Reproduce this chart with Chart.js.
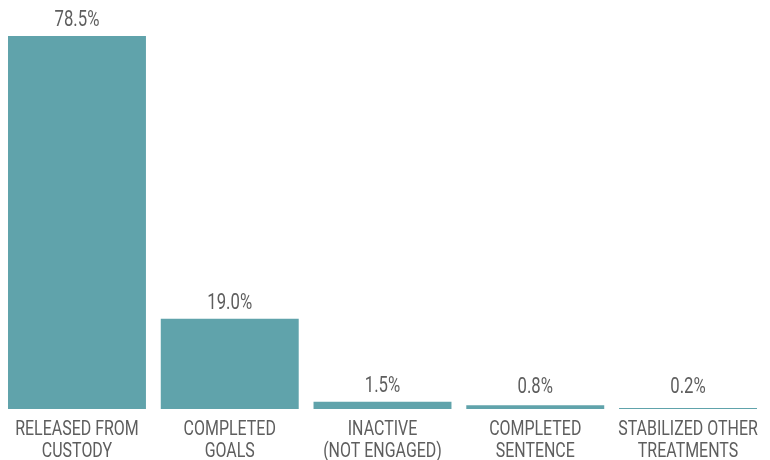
<!DOCTYPE html>
<html>
<head>
<meta charset="utf-8">
<script src="https://cdn.jsdelivr.net/npm/chart.js@4"></script>
<style>
  html, body { margin: 0; padding: 0; background: #fff; }
  #wrap { width: 770px; height: 460px; }
</style>
</head>
<body>
<div id="wrap"><canvas id="outcomes"></canvas></div>
<script>
const categories = [
    ['RELEASED FROM', 'CUSTODY'],
    ['COMPLETED', 'GOALS'],
    ['INACTIVE', '(NOT ENGAGED)'],
    ['COMPLETED', 'SENTENCE'],
    ['STABILIZED OTHER', 'TREATMENTS']
];
const percents = [78.5, 19.0, 1.5, 0.8, 0.2];
const valueLabels = ['78.5%', '19.0%', '1.5%', '0.8%', '0.2%'];

const FONT = "Roboto, 'DejaVu Sans Condensed', sans-serif";
const TEXT_COLOR = '#5e5e5e';
const SQUEEZE = 0.76; // fake a condensed face, none is installed

function squeezedText(ctx, text, x, y) {
    ctx.save();
    ctx.translate(x, y);
    ctx.scale(SQUEEZE, 1);
    ctx.fillText(text, 0, 0);
    ctx.restore();
}

// value above each bar + two-line category names under the axis
const barText = {
    id: 'barText',
    afterDatasetsDraw(chart) {
        const ctx = chart.ctx;
        const meta = chart.getDatasetMeta(0);
        const bottom = chart.chartArea.bottom;
        ctx.save();
        ctx.fillStyle = TEXT_COLOR;
        ctx.textAlign = 'center';
        ctx.textBaseline = 'alphabetic';
        meta.data.forEach((bar, i) => {
            ctx.font = '22px ' + FONT;
            const y = Math.min(bar.y - 10, bottom - 16);
            squeezedText(ctx, valueLabels[i], bar.x, y);
            ctx.font = '21px ' + FONT;
            categories[i].forEach((line, j) => {
                squeezedText(ctx, line, bar.x, bottom + 26 + j * 22);
            });
        });
        ctx.restore();
    }
};

new Chart(document.getElementById('outcomes'), {
    type: 'bar',
    data: {
        labels: categories,
        datasets: [{
            data: percents,
            backgroundColor: '#60a3ab',
            borderWidth: 0,
            barPercentage: 0.903,
            categoryPercentage: 1.0
        }]
    },
    options: {
        responsive: true,
        maintainAspectRatio: false,
        animation: false,
        layout: { padding: { top: 36, left: 0.6, right: 5.6, bottom: 51 } },
        plugins: {
            legend: { display: false },
            tooltip: { enabled: false }
        },
        scales: {
            x: {
                display: false
            },
            y: {
                display: false,
                min: 0,
                max: 78.5
            }
        }
    },
    plugins: [barText]
});
</script>
</body>
</html>
